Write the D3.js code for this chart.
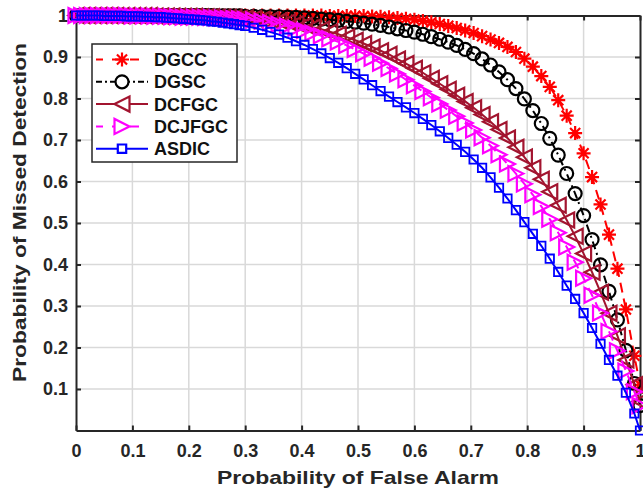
<!DOCTYPE html>
<html><head><meta charset="utf-8">
<script src="https://cdn.jsdelivr.net/npm/d3@7"></script>
<style>body{margin:0;background:#fff} svg{display:block}</style>
</head><body>
<script>
// ---- data ----
const pf = [0,0.01,0.02,0.03,0.04,0.05,0.06,0.07,0.08,0.09,0.10,
  0.11,0.12,0.13,0.14,0.15,0.16,0.17,0.18,0.19,0.20,
  0.21,0.22,0.23,0.24,0.25,0.26,0.27,0.28,0.29,0.30,
  0.315,0.33,0.345,0.36,0.375,0.39,0.405,0.42,0.435,0.45,0.465,0.48,0.495,0.51,
  0.525,0.54,0.555,0.57,0.585,0.60,0.615,0.63,0.645,0.66,0.675,0.69,0.705,
  0.72,0.735,0.75,0.765,0.78,0.795,0.81,0.825,0.84,0.855,
  0.87,0.885,0.90,0.915,0.93,0.945,0.96,0.975,0.99,1.0];

const pmDGCC = [1,1,1,1,1,1,1,1,1,1,1,
  1,1,1,1,1,1,1,1,1,1,
  1,1,1,1,1,1,1,1,1,1,
  1,1,1,1,1,1,1,1,1,0.999,0.999,0.999,0.999,0.9985,
  0.9978,0.997,0.9955,0.994,0.9923,0.990,0.987,0.9835,0.9795,0.975,0.9698,0.964,0.9577,
  0.9503,0.9423,0.934,0.9243,0.912,0.896,0.8767,0.854,0.828,0.796,
  0.7587,0.7167,0.668,0.6107,0.5447,0.472,0.390,0.2917,0.180,0.110];

const pmDGSC = [1,1,1,1,1,1,1,1,1,1,1,
  1,1,1,1,1,1,1,1,1,1,
  1,1,1,1,0.999,0.999,0.999,0.999,0.999,0.998,
  0.998,0.9975,0.997,0.997,0.9963,0.9955,0.9945,0.993,0.9915,0.990,0.9883,0.986,0.984,0.9815,
  0.979,0.976,0.9723,0.968,0.9638,0.960,0.9548,0.949,0.9428,0.936,0.9278,0.9185,0.908,
  0.8953,0.8807,0.864,0.8453,0.824,0.799,0.771,0.7397,0.704,0.6637,
  0.6193,0.571,0.518,0.460,0.3993,0.3353,0.2667,0.1933,0.1133,0.060];

const pmDCFGC = [1,1,1,1,1,1,1,1,1,1,1,
  1,1,1,0.999,0.999,0.999,0.999,0.998,0.998,0.998,
  0.998,0.997,0.997,0.997,0.996,0.996,0.995,0.995,0.994,0.994,
  0.9925,0.991,0.9893,0.987,0.984,0.9805,0.9765,0.972,0.9668,0.961,0.9548,0.948,0.9405,0.9325,
  0.924,0.915,0.9063,0.895,0.8843,0.873,0.862,0.8485,0.8355,0.822,0.8078,0.793,0.7777,
  0.7613,0.744,0.7253,0.7047,0.6823,0.6587,0.633,0.6053,0.5753,0.5427,
  0.5073,0.4683,0.4263,0.3813,0.3333,0.2823,0.228,0.170,0.110,0.070];

const pmDCJFGC = [1,1,1,1,1,1,1,1,1,1,0.999,
  0.999,0.999,0.999,0.998,0.998,0.998,0.997,0.997,0.996,0.996,
  0.996,0.996,0.995,0.995,0.994,0.994,0.993,0.993,0.992,0.991,
  0.9888,0.986,0.9828,0.979,0.9745,0.9695,0.964,0.958,0.9513,0.944,0.9363,0.928,0.9183,0.908,
  0.897,0.885,0.8723,0.859,0.8453,0.831,0.8168,0.802,0.787,0.772,0.757,0.741,0.724,
  0.7057,0.686,0.6647,0.6423,0.619,0.5943,0.568,0.540,0.5093,0.4767,
  0.442,0.4053,0.3667,0.326,0.2833,0.2387,0.192,0.1433,0.0933,0.060];

const pmASDIC = [1,1,1,1,1,0.999,0.999,0.999,0.999,0.998,0.998,
  0.998,0.997,0.997,0.996,0.996,0.995,0.994,0.993,0.992,0.991,
  0.990,0.989,0.988,0.986,0.985,0.983,0.981,0.979,0.977,0.975,
  0.9705,0.9655,0.960,0.954,0.9465,0.938,0.929,0.919,0.9085,0.8975,0.886,0.873,0.8595,0.846,
  0.832,0.818,0.8045,0.7915,0.7785,0.765,0.751,0.736,0.721,0.705,0.6885,0.6715,0.653,
  0.633,0.610,0.585,0.559,0.531,0.502,0.474,0.445,0.414,0.382,
  0.349,0.317,0.283,0.247,0.209,0.170,0.132,0.091,0.041,0];

const seriesNames = ["DGCC","DGSC","DCFGC","DCJFGC","ASDIC"];
const seriesValues = [pmDGCC, pmDGSC, pmDCFGC, pmDCJFGC, pmASDIC];
const seriesColors = ["#ff0000","#000000","#a2142f","#ff00ff","#0000ff"];
const seriesDash = ["10,6","8,4,2,4",null,"10,6",null];
const seriesMarkers = ["star","circle","triLeft","triRight","square"];

const xTicks = [0,0.1,0.2,0.3,0.4,0.5,0.6,0.7,0.8,0.9,1];
const xTickLabels = ["0","0.1","0.2","0.3","0.4","0.5","0.6","0.7","0.8","0.9","1"];
const yTicks = [0.1,0.2,0.3,0.4,0.5,0.6,0.7,0.8,0.9,1];
const yTickLabels = ["0.1","0.2","0.3","0.4","0.5","0.6","0.7","0.8","0.9","1"];
const xTitle = "Probability of False Alarm";
const yTitle = "Probability of Missed Detection";

// ---- layout ----
const W = 643, H = 494;
const L = 76, R = 640, T = 15.5, B = 430.5;
const FONT = "'Liberation Sans', Arial, Helvetica, sans-serif";

const svg = d3.select("body").append("svg").attr("width", W).attr("height", H)
  .style("font-family", FONT);

const x = d3.scaleLinear().domain([0,1]).range([L,R]);
const y = d3.scaleLinear().domain([0,1]).range([B,T]);

// grid
const grid = svg.append("g");
grid.selectAll("line.gx").data(xTicks.filter(d=>d>0&&d<1)).join("line")
  .attr("x1",d=>x(d)).attr("x2",d=>x(d)).attr("y1",T).attr("y2",B)
  .attr("stroke","#d9d9d9").attr("stroke-width",1.5);
grid.selectAll("line.gy").data(yTicks.filter(d=>d>0&&d<1)).join("line")
  .attr("y1",d=>y(d)).attr("y2",d=>y(d)).attr("x1",L).attr("x2",R)
  .attr("stroke","#d9d9d9").attr("stroke-width",1.5);

// axes
const axColor = "#262626";
const xAxis = svg.append("g").attr("transform",`translate(0,${B})`)
  .call(d3.axisBottom(x).tickValues(xTicks).tickFormat((d,i)=>xTickLabels[i]).tickSizeInner(-5).tickSizeOuter(0).tickPadding(14));
const yAxis = svg.append("g").attr("transform",`translate(${L},0)`)
  .call(d3.axisLeft(y).tickValues(yTicks).tickFormat((d,i)=>yTickLabels[i]).tickSizeInner(-5).tickSizeOuter(0).tickPadding(8));
const xTop = svg.append("g").attr("transform",`translate(0,${T})`)
  .call(d3.axisTop(x).tickValues(xTicks).tickFormat("").tickSizeInner(-5).tickSizeOuter(0));
const yRight = svg.append("g").attr("transform",`translate(${R},0)`)
  .call(d3.axisRight(y).tickValues(yTicks).tickFormat("").tickSizeInner(-5).tickSizeOuter(0));
[xAxis,yAxis,xTop,yRight].forEach(g=>{
  g.select(".domain").attr("stroke",axColor).attr("stroke-width",2);
  g.selectAll(".tick line").attr("stroke",axColor).attr("stroke-width",2);
  g.selectAll("text").attr("fill","#262626").style("font-size","18px").style("font-weight","bold").style("font-family",FONT);
});
xAxis.selectAll("text").attr("dy","0.71em");

// axis titles
svg.append("text").attr("x",(L+R)/2).attr("y",484).attr("text-anchor","middle")
  .attr("textLength",282).attr("lengthAdjust","spacingAndGlyphs")
  .style("font-size","18.5px").style("font-weight","bold").attr("fill","#262626").text(xTitle);
svg.append("text").attr("transform","translate(26,212.5) rotate(-90)").attr("text-anchor","middle")
  .attr("textLength",339).attr("lengthAdjust","spacingAndGlyphs")
  .style("font-size","18.5px").style("font-weight","bold").attr("fill","#262626").text(yTitle);

// markers
function markerPath(type){
  switch(type){
    case "star": { const r=7, d=r*0.72;
      return `M${-r},0L${r},0M0,${-r}L0,${r}M${-d},${-d}L${d},${d}M${-d},${d}L${d},${-d}`; }
    case "circle": { const r=6.5;
      return `M${r},0A${r},${r} 0 1,1 ${-r},0A${r},${r} 0 1,1 ${r},0Z`; }
    case "triLeft": { const r=7.5;
      return `M${-r},0L${r},${-r}L${r},${r}Z`; }
    case "triRight": { const r=7.5;
      return `M${r},0L${-r},${-r}L${-r},${r}Z`; }
    case "square": { const s=4.2;
      return `M${-s},${-s}L${s},${-s}L${s},${s}L${-s},${s}Z`; }
  }
}

const line = d3.line().x(d=>x(d[0])).y(d=>y(d[1]));
const plot = svg.append("g");
seriesNames.forEach((name,i)=>{
  const data = pf.map((p,j)=>[p, seriesValues[i][j]]);
  const g = plot.append("g");
  g.append("path").datum(data).attr("d",line).attr("fill","none")
    .attr("stroke",seriesColors[i]).attr("stroke-width",2)
    .attr("stroke-dasharray",seriesDash[i]);
  g.selectAll("path.m").data(data).join("path").attr("class","m")
    .attr("transform",d=>`translate(${x(d[0])},${y(d[1])})`)
    .attr("d",markerPath(seriesMarkers[i])).attr("fill","none")
    .attr("stroke",seriesColors[i]).attr("stroke-width",seriesMarkers[i]==="square"?1.8:2.2);
});

// legend
const lg = svg.append("g");
lg.append("rect").attr("x",92).attr("y",44).attr("width",145).attr("height",118)
  .attr("fill","#fff").attr("stroke","#262626").attr("stroke-width",1.5);
seriesNames.forEach((name,i)=>{
  const yy = 59.5 + i*22.3;
  lg.append("line").attr("x1",96).attr("x2",148).attr("y1",yy).attr("y2",yy)
    .attr("stroke",seriesColors[i]).attr("stroke-width",2)
    .attr("stroke-dasharray",seriesDash[i]===null?null:(i===1?"6,3,2,3":"9,9"))
    .attr("stroke-dashoffset", i===0||i===3 ? 2 : 0);
  lg.append("path").attr("transform",`translate(122,${yy})`).attr("d",markerPath(seriesMarkers[i]))
    .attr("fill", "#fff").attr("stroke",seriesColors[i]).attr("stroke-width",2.2);
  lg.append("text").attr("x",154).attr("y",yy).attr("dy","0.36em")
    .style("font-size","18px").style("font-weight","bold").attr("fill","#111").text(name);
});
</script>
</body></html>
